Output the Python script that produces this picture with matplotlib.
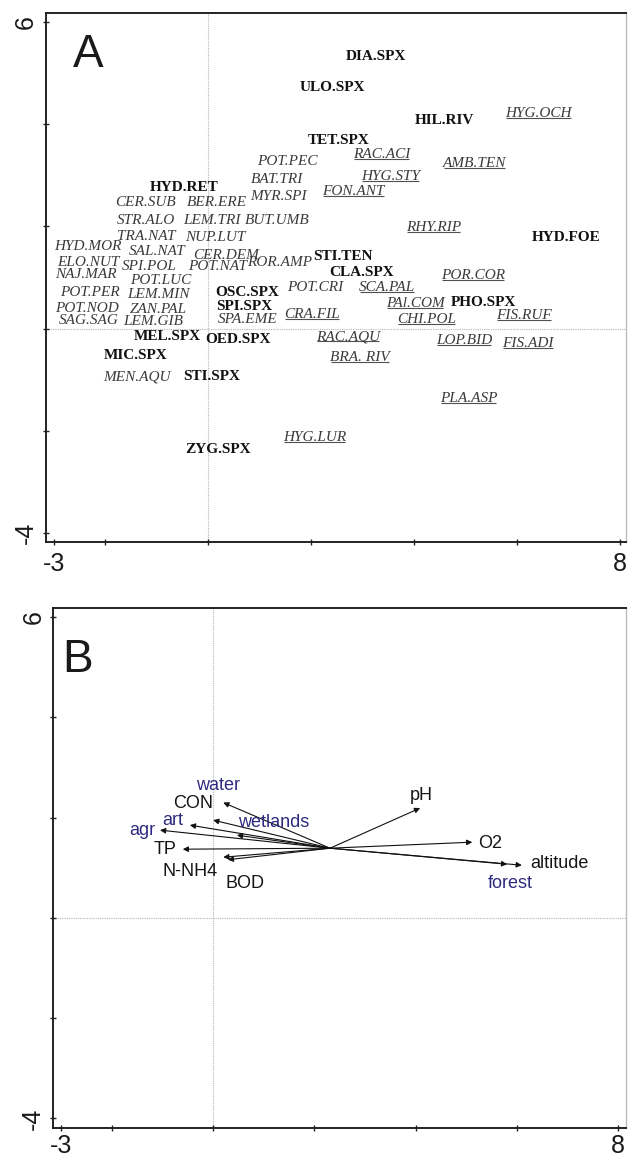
import matplotlib
matplotlib.use("Agg")
import matplotlib.pyplot as plt

# ---------------- Panel A data: species scores ----------------
bold_names = ["DIA.SPX", "ULO.SPX", "HIL.RIV", "TET.SPX", "HYD.RET", "STI.TEN",
              "HYD.FOE", "CLA.SPX", "OSC.SPX", "SPI.SPX", "PHO.SPX", "MEL.SPX",
              "OED.SPX", "MIC.SPX", "STI.SPX", "ZYG.SPX"]
bold_x = [3.25, 2.42, 4.59, 2.53, -0.46, 2.61, 6.95, 2.98, 0.75, 0.70, 5.35, -0.80,
          0.58, -1.42, 0.07, 0.18]
bold_y = [5.32, 4.73, 4.07, 3.68, 2.76, 1.42, 1.78, 1.09, 0.70, 0.43, 0.52, -0.16,
          -0.22, -0.53, -0.94, -2.37]

ital_names = ["POT.PEC", "BAT.TRI", "MYR.SPI", "BER.ERE", "CER.SUB", "STR.ALO",
              "LEM.TRI", "BUT.UMB", "TRA.NAT", "NUP.LUT", "HYD.MOR", "SAL.NAT",
              "CER.DEM", "ELO.NUT", "SPI.POL", "POT.NAT", "ROR.AMP", "NAJ.MAR",
              "POT.LUC", "POT.PER", "LEM.MIN", "POT.CRI", "POT.NOD", "ZAN.PAL",
              "SAG.SAG", "LEM.GIB", "SPA.EME", "MEN.AQU"]
ital_x = [1.54, 1.33, 1.36, 0.16, -1.22, -1.22, 0.07, 1.34, -1.21, 0.13, -2.34, -0.99,
          0.35, -2.34, -1.14, 0.18, 1.38, -2.38, -0.93, -2.30, -0.96, 2.07, -2.35, -0.97,
          -2.33, -1.07, 0.77, -1.38]
ital_y = [3.28, 2.91, 2.58, 2.46, 2.46, 2.11, 2.11, 2.11, 1.80, 1.78, 1.60, 1.50,
          1.44, 1.29, 1.21, 1.21, 1.29, 1.05, 0.94, 0.70, 0.66, 0.80, 0.39, 0.37,
          0.15, 0.13, 0.17, -0.94]

und_names = ["HYG.OCH", "RAC.ACI", "AMB.TEN", "HYG.STY", "FON.ANT", "RHY.RIP",
             "POR.COR", "SCA.PAL", "PAl.COM", "CRA.FIL", "FIS.RUF", "CHI.POL",
             "RAC.AQU", "LOP.BID", "FIS.ADI", "BRA. RIV", "PLA.ASP", "HYG.LUR"]
und_x = [6.42, 3.37, 5.18, 3.54, 2.82, 4.38, 5.14, 3.47, 4.02, 2.02, 6.14, 4.24,
         2.72, 4.97, 6.21, 2.95, 5.06, 2.07]
und_y = [4.22, 3.40, 3.24, 2.97, 2.68, 1.97, 1.03, 0.80, 0.50, 0.27, 0.25, 0.17,
         -0.16, -0.24, -0.30, -0.57, -1.37, -2.14]

# ---------------- Panel B data: environmental arrows ----------------
arrow_origin = (2.31, 1.39)
env_names = ["water", "CON", "art", "agr", "wetlands", "TP", "N-NH4", "BOD",
             "pH", "O2", "altitude", "forest"]
env_x = [0.20, 0.00, -0.46, -1.05, 0.47, -0.60, 0.20, 0.29, 4.09, 5.12, 6.10, 5.81]
env_y = [2.30, 1.95, 1.85, 1.75, 1.65, 1.37, 1.21, 1.16, 2.19, 1.51, 1.05, 1.07]
env_lab_x = [0.10, -0.40, -0.80, -1.40, 1.19, -0.95, -0.46, 0.63, 4.11, 5.47, 6.84, 5.87]
env_lab_y = [2.65, 2.29, 1.95, 1.75, 1.91, 1.37, 0.92, 0.68, 2.45, 1.49, 1.08, 0.68]
env_supp = [True, False, True, True, True, False, False, False, False, False, False, True]

x_ticks = [-3, -2, 0, 2, 4, 6, 8]
x_ticklabels = ["-3", "", "", "", "", "", "8"]
y_ticks = [-4, -2, 0, 2, 4, 6]
y_ticklabels = ["-4", "", "", "", "", "6"]

SANS = ["Liberation Sans", "DejaVu Sans"]
SERIF = ["Liberation Serif", "DejaVu Serif"]

fig = plt.figure(figsize=(6.28, 11.59), dpi=100)
axA = fig.add_axes([0.07325, 0.53236, 0.9236, 0.45643])
axB = fig.add_axes([0.08487, 0.02675, 0.91131, 0.44866])


def style_axes(ax, xlim, ylim, xpad):
    ax.set_xlim(*xlim)
    ax.set_ylim(*ylim)
    ax.axvline(0, color="#b5b5b5", lw=0.8, ls=(0, (1, 1)), zorder=0)
    ax.axhline(0, color="#b5b5b5", lw=0.8, ls=(0, (1, 1)), zorder=0)
    ax.set_xticks(x_ticks)
    ax.set_xticklabels(x_ticklabels, fontsize=18, family=SANS, color="#1a1a1a")
    ax.set_yticks(y_ticks)
    ax.set_yticklabels(y_ticklabels, fontsize=18, family=SANS, color="#1a1a1a",
                       rotation=90, va="center")
    ax.tick_params(axis="both", direction="inout", length=4.5, width=1.0,
                   color="#222222")
    ax.tick_params(axis="x", pad=xpad)
    ax.tick_params(axis="y", pad=3.5)
    for s in ax.spines.values():
        s.set_linewidth(1.4)
        s.set_color("#222222")
    ax.spines["right"].set_color("#bbbbbb")
    ax.spines["right"].set_linewidth(1.0)


style_axes(axA, (-3.155, 8.12), (-4.18, 6.18), 5)
style_axes(axB, (-3.158, 8.15), (-4.19, 6.18), 2)

# Panel letters
axA.text(-2.63, 5.12, "A", fontsize=33, family=SANS, color="#1a1a1a",
         ha="left", va="baseline")
axB.text(-2.98, 4.90, "B", fontsize=33, family=SANS, color="#1a1a1a",
         ha="left", va="baseline")

FS = 11
for n, x, y in zip(bold_names, bold_x, bold_y):
    axA.text(x, y, n, fontsize=FS, family=SERIF, fontweight="bold",
             color="#111111", ha="center", va="center")
for n, x, y in zip(ital_names, ital_x, ital_y):
    axA.text(x, y, n, fontsize=FS, family=SERIF, style="italic",
             color="#3a3a3a", ha="center", va="center")
und_texts = []
for n, x, y in zip(und_names, und_x, und_y):
    t = axA.text(x, y, n, fontsize=FS, family=SERIF, style="italic",
                 color="#3a3a3a", ha="center", va="center")
    und_texts.append(t)

# Panel B arrows and labels
for n, x, y, lx, ly, sup in zip(env_names, env_x, env_y, env_lab_x, env_lab_y, env_supp):
    axB.annotate("", xy=(x, y), xytext=arrow_origin,
                 arrowprops=dict(arrowstyle="-|>", color="#111111", lw=0.8,
                                 mutation_scale=8, shrinkA=0, shrinkB=0))
    axB.text(lx, ly, n, fontsize=13, family=SANS,
             color="#2e2a7e" if sup else "#151515", ha="center", va="center")

# Underlines under the underlined species names
fig.canvas.draw()
r = fig.canvas.get_renderer()
inv = axA.transData.inverted()
for t in und_texts:
    bb = t.get_window_extent(r)
    yline = bb.y0 + 2.0
    p0 = inv.transform((bb.x0 + 1, yline))
    p1 = inv.transform((bb.x1 - 1, yline))
    axA.plot([p0[0], p1[0]], [p0[1], p1[1]], color="#505050", lw=0.8,
             solid_capstyle="butt")

fig.savefig("out.png", dpi=100)
